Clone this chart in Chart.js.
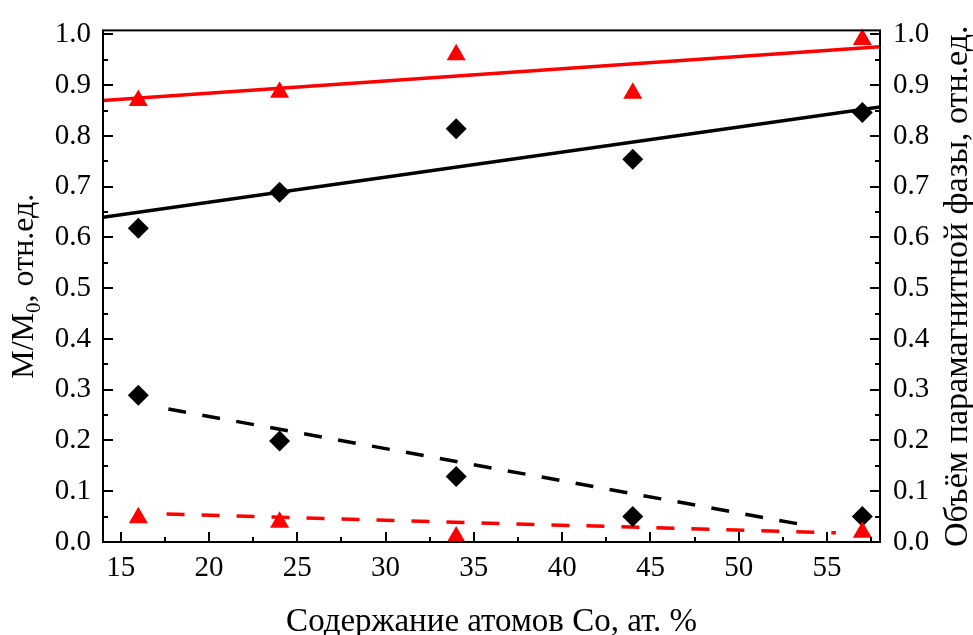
<!DOCTYPE html>
<html><head><meta charset="utf-8">
<script src="https://cdn.jsdelivr.net/npm/chart.js@4.4.0/dist/chart.umd.min.js"></script>
<style>html,body{margin:0;padding:0;background:#fff;overflow:hidden}#wrap{width:973px;height:635px;position:relative}</style>
</head><body><div id="wrap"><canvas id="c" width="973" height="635"></canvas></div>
<script>
// ---- data ----
const cobalt = [16, 24, 34, 44, 57];
const magnetBlack = [0.618, 0.689, 0.814, 0.754, 0.846];
const magnetRed = [0.870, 0.886, 0.960, 0.884, 0.990];
const paraBlack = [0.289, 0.199, 0.129, 0.050, 0.050];
const paraRedX = [16, 24, 34, 57];
const paraRed = [0.048, 0.039, 0.010, 0.019];
// fit lines (endpoints)
const solidX = [14, 58];
const solidBlackY = [0.640, 0.857];
const solidRedY = [0.870, 0.976];
const dashBlackX = [17.7, 53.8];
const dashBlackY = [0.262, 0.033];
const dashRedX = [17.6, 55.5];
const dashRedY = [0.055, 0.018];
// ticks
const xTicks = [15, 20, 25, 30, 35, 40, 45, 50, 55];
const xMinor = [17.5, 22.5, 27.5, 32.5, 37.5, 42.5, 47.5, 52.5, 57.5];
const yTicks = [0, 0.1, 0.2, 0.3, 0.4, 0.5, 0.6, 0.7, 0.8, 0.9, 1.0];
const yMinor = [0.05, 0.15, 0.25, 0.35, 0.45, 0.55, 0.65, 0.75, 0.85, 0.95];
const xTitle = 'Содержание атомов Co, ат. %';
const yLeftTitle = ['M/M', '0', ', отн.ед.'];
const yRightTitle = 'Объём парамагнитной фазы, отн.ед.';

const FONT = '"Liberation Serif", "Times New Roman", serif';
const pts = (xs, ys) => xs.map((x, i) => ({x, y: ys[i]}));

const frame = {
  id: 'frame',
  afterDatasetsDraw(chart) {
    const {ctx, chartArea: a, scales} = chart;
    const xs = scales.x, ys = scales.y;
    ctx.save();
    ctx.strokeStyle = '#000';
    ctx.lineWidth = 2;
    ctx.strokeRect(a.left, a.top, a.right - a.left, a.bottom - a.top);
    ctx.beginPath();
    const tk = (list, len) => {
      list.forEach(v => {
        const px = Math.round(xs.getPixelForValue(v));
        ctx.moveTo(px, a.bottom); ctx.lineTo(px, a.bottom - len);
      });
    };
    tk(xTicks, 10); tk(xMinor, 5);
    const ty = (list, len) => {
      list.forEach(v => {
        const py = Math.round(ys.getPixelForValue(v));
        ctx.moveTo(a.left, py); ctx.lineTo(a.left + len, py);
        ctx.moveTo(a.right, py); ctx.lineTo(a.right - len, py);
      });
    };
    ty(yTicks, 10); ty(yMinor, 5);
    ctx.stroke();
    ctx.restore();
  },
  afterDraw(chart) {
    const {ctx, chartArea: a} = chart;
    ctx.save();
    ctx.fillStyle = '#000';
    ctx.font = '33px ' + FONT;
    ctx.textBaseline = 'alphabetic';
    // x title
    ctx.textAlign = 'center';
    ctx.fillText(xTitle, (a.left + a.right) / 2, 631);
    const cy = (a.top + a.bottom) / 2;
    // left title with subscript
    const f1 = '32px ' + FONT, f2 = '21px ' + FONT;
    ctx.font = f1; const w1 = ctx.measureText(yLeftTitle[0]).width;
    ctx.font = f2; const w2 = ctx.measureText(yLeftTitle[1]).width;
    ctx.font = f1; const w3 = ctx.measureText(yLeftTitle[2]).width;
    const tot = w1 + w2 + w3;
    ctx.save();
    ctx.translate(33, cy);
    ctx.rotate(-Math.PI / 2);
    ctx.textAlign = 'left';
    let x0 = -tot / 2;
    ctx.font = f1; ctx.fillText(yLeftTitle[0], x0, 0);
    ctx.font = f2; ctx.fillText(yLeftTitle[1], x0 + w1, 7);
    ctx.font = f1; ctx.fillText(yLeftTitle[2], x0 + w1 + w2, 0);
    ctx.restore();
    // right title
    ctx.save();
    ctx.translate(967, cy);
    ctx.rotate(-Math.PI / 2);
    ctx.textAlign = 'center';
    ctx.font = '34px ' + FONT;
    ctx.fillText(yRightTitle, 0, 0);
    ctx.restore();
    ctx.restore();
  }
};

const setTicks = list => scale => { scale.ticks = list.map(v => ({value: v})); };
const tickFont = {family: FONT, size: 29};

new Chart(document.getElementById('c'), {
  type: 'scatter',
  data: {
    datasets: [
      {data: pts(cobalt, magnetRed), pointStyle: 'triangle', pointRadius: 11, backgroundColor: '#ff0000', borderColor: '#ff0000', borderWidth: 0, clip: false, order: 1},
      {data: pts(paraRedX, paraRed), pointStyle: 'triangle', pointRadius: 11, backgroundColor: '#ff0000', borderColor: '#ff0000', borderWidth: 0, clip: false, order: 1},
      {data: pts(cobalt, magnetBlack), pointStyle: 'rectRot', pointRadius: 10.5, backgroundColor: '#000', borderColor: '#000', borderWidth: 0, clip: false, order: 1},
      {data: pts(cobalt, paraBlack), pointStyle: 'rectRot', pointRadius: 10.5, backgroundColor: '#000', borderColor: '#000', borderWidth: 0, clip: false, order: 1},
      {data: pts(solidX, solidRedY), showLine: true, pointRadius: 0, borderColor: '#ff0000', borderWidth: 3.5, order: 2},
      {data: pts(solidX, solidBlackY), showLine: true, pointRadius: 0, borderColor: '#000', borderWidth: 3.5, order: 2},
      {data: pts(dashBlackX, dashBlackY), showLine: true, pointRadius: 0, borderColor: '#000', borderWidth: 3.5, borderDash: [18, 16.5], order: 2},
      {data: pts(dashRedX, dashRedY), showLine: true, pointRadius: 0, borderColor: '#ff0000', borderWidth: 3.5, borderDash: [18, 17], order: 2}
    ]
  },
  options: {
    responsive: false,
    animation: false,
    devicePixelRatio: 1,
    layout: {padding: {top: 26, left: 0, right: 0, bottom: 0}, autoPadding: false},
    plugins: {legend: {display: false}, tooltip: {enabled: false}},
    scales: {
      x: {
        type: 'linear', position: 'bottom', min: 14, max: 58,
        afterBuildTicks: setTicks(xTicks),
        afterFit: s => { s.height = 93; },
        grid: {display: false, drawTicks: false}, border: {display: false},
        ticks: {color: '#000', font: tickFont, padding: 9, maxRotation: 0, autoSkip: false, callback: v => String(v)}
      },
      y: {
        type: 'linear', position: 'left', min: 0, max: 1.008,
        afterBuildTicks: setTicks(yTicks),
        afterFit: s => { s.width = 103; },
        grid: {display: false, drawTicks: false}, border: {display: false},
        ticks: {color: '#000', font: tickFont, padding: 12, autoSkip: false, callback: v => Number(v).toFixed(1)}
      },
      y2: {
        type: 'linear', position: 'right', min: 0, max: 1.008,
        afterBuildTicks: setTicks(yTicks),
        afterFit: s => { s.width = 93; },
        grid: {display: false, drawTicks: false}, border: {display: false},
        ticks: {color: '#000', font: tickFont, padding: 13, autoSkip: false, callback: v => Number(v).toFixed(1)}
      }
    }
  },
  plugins: [frame]
});
</script>
</body></html>
